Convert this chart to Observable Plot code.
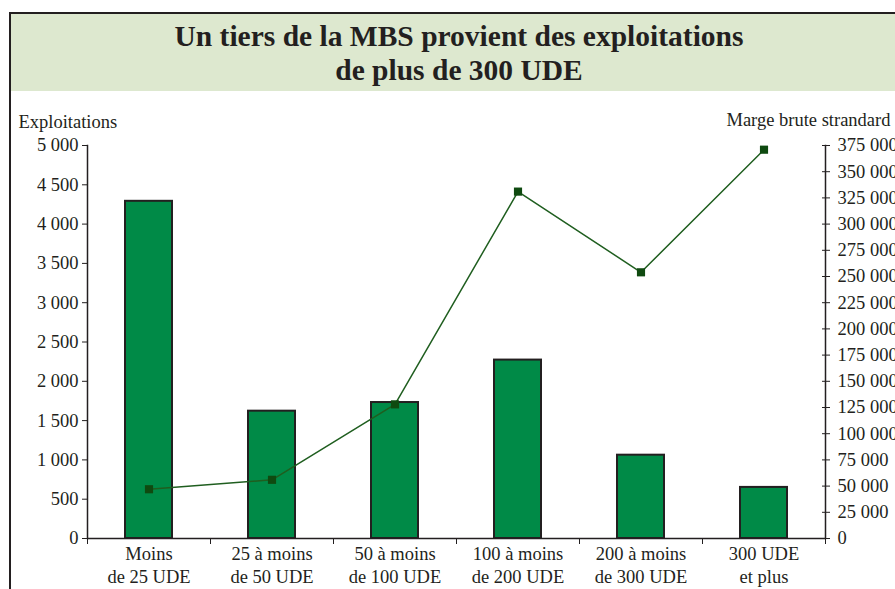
<!DOCTYPE html>
<html><head><meta charset="utf-8">
<script src="https://cdn.jsdelivr.net/npm/d3@7"></script>
<script src="https://cdn.jsdelivr.net/npm/@observablehq/plot@0.6"></script>
<style>
body{margin:0;background:#fff;}
#wrap{position:relative;width:895px;height:589px;overflow:hidden;font-family:"Liberation Serif","Times New Roman",serif;}
#frame{position:absolute;left:9px;top:12px;width:1000px;height:700px;border-left:2px solid #231f20;border-top:2px solid #231f20;}
#title{position:absolute;left:11px;top:14px;width:896px;height:77px;background:#dde8cf;color:#231f20;font-weight:bold;font-size:29.5px;line-height:34px;text-align:center;padding-top:5px;box-sizing:border-box;}
#plot{position:absolute;left:0;top:91px;}
</style></head><body>
<div id="wrap"><div id="frame"></div><div id="title">Un tiers de la MBS provient des exploitations<br>de plus de 300 UDE</div><div id="plot"></div></div>
<script>
const categories = ["Moins\nde 25 UDE", "25 à moins\nde 50 UDE", "50 à moins\nde 100 UDE", "100 à moins\nde 200 UDE", "200 à moins\nde 300 UDE", "300 UDE\net plus"];
const exploitations = [4290, 1620, 1730, 2270, 1060, 650];
const mbs = [47000, 56000, 128000, 331000, 254000, 371000];
const leftTicks = [0, 500, 1000, 1500, 2000, 2500, 3000, 3500, 4000, 4500, 5000];
const rightTicks = [0, 25000, 50000, 75000, 100000, 125000, 150000, 175000, 200000, 225000, 250000, 275000, 300000, 325000, 350000, 375000];
const leftLabel = "Exploitations";
const rightLabel = "Marge brute strandard";

const k = 5000 / 375000;
const fmt = d3.formatLocale({decimal: ",", thousands: " ", grouping: [3], currency: ["", ""]}).format(",d");
const rows = categories.map((c, i) => ({c, n: exploitations[i], m: mbs[i]}));
const ink = "#231f20";
const step = (825 - 87) / 6;
const none = () => "";

const chart = Plot.plot({
  width: 895, height: 498,
  marginLeft: 87, marginRight: 70, marginTop: 54, marginBottom: 51,
  style: {background: "transparent", fontFamily: "Liberation Serif, Times New Roman, serif", fontSize: "18.5px", color: ink},
  x: {domain: categories, padding: 0, axis: null},
  y: {domain: [0, 5000], axis: null},
  marks: [
    Plot.barY(rows, {x: "c", y: "n", fill: "#008a47", stroke: ink, strokeWidth: 2, insetLeft: 38, insetRight: 38}),
    Plot.line(rows, {x: "c", y: d => d.m * k, stroke: "#1f5e1f", strokeWidth: 1.5}),
    Plot.dot(rows, {x: "c", y: d => d.m * k, symbol: "square", r: 4.6, fill: "#0f4a10", stroke: "none"}),
    Plot.frame({anchor: "left", stroke: ink, strokeWidth: 1.5}),
    Plot.frame({anchor: "right", stroke: ink, strokeWidth: 1.5}),
    Plot.ruleY([0], {stroke: ink, strokeWidth: 1.5}),
    Plot.axisY({anchor: "left", ticks: leftTicks, tickSize: 5, tickPadding: 4, tickFormat: fmt, label: null, stroke: ink, fill: ink}),
    Plot.axisY({anchor: "right", ticks: rightTicks.map(v => v * k), tickSize: 4, tickPadding: 8, tickFormat: d => fmt(Math.round(d / k)), label: null, stroke: ink, fill: ink}),
    Plot.axisY({anchor: "right", ticks: rightTicks.map(v => v * k), tickSize: -4, tickFormat: none, label: null, stroke: ink}),
    Plot.axisX({anchor: "bottom", tickSize: 0, tickPadding: 5, label: null, lineHeight: 1.25, fill: ink}),
    Plot.axisX({anchor: "bottom", tickSize: 6, tickFormat: none, label: null, dx: -step / 2, stroke: ink}),
    Plot.axisX({anchor: "bottom", ticks: [categories[5]], tickSize: 6, tickFormat: none, label: null, dx: step / 2, stroke: ink}),
    Plot.text([leftLabel], {text: d => d, frameAnchor: "top-left", textAnchor: "start", dx: -69, dy: -31, fill: ink}),
    Plot.text([rightLabel], {text: d => d, frameAnchor: "top-right", textAnchor: "end", dx: 65, dy: -33, fill: ink})
  ]
});
document.getElementById("plot").appendChild(chart);
</script>
</body></html>
